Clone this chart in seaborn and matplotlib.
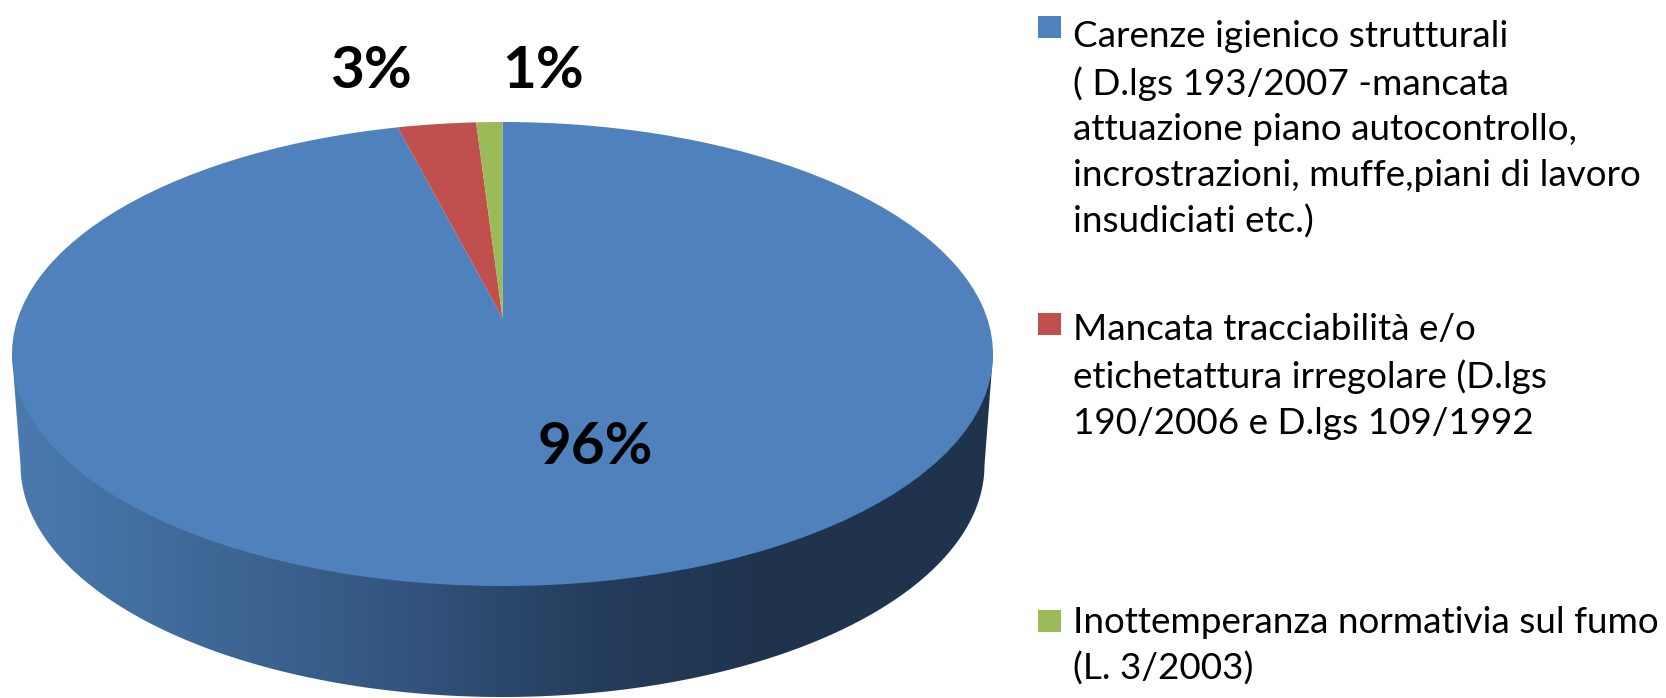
import numpy as np
import matplotlib
matplotlib.use("Agg")
import matplotlib.pyplot as plt
import matplotlib.transforms as mtransforms
from matplotlib.patches import Polygon, Rectangle
import seaborn as sns

# chart data
categories = [
    "Carenze igienico strutturali\n( D.lgs 193/2007 -mancata\nattuazione piano autocontrollo,\nincrostrazioni, muffe,piani di lavoro\ninsudiciati etc.)",
    "Mancata tracciabilità e/o\netichetattura irregolare (D.lgs\n190/2006 e D.lgs 109/1992",
    "Inottemperanza normativia sul fumo\n(L. 3/2003)",
]
values = [96, 3, 1]
colors = ["#4F81BD", "#C0504D", "#9BBB59"]
side_colors = ["#4A7AAF", "#33557F", "#243C5B", "#20344E", "#1F334D"]

# layout, in pixels of the 1666x698 picture
CX, CY, RX, RY = 502.5, 354, 490.5, 232
BOTTOM_CY, BOTTOM_RX, BOTTOM_RY = 465, 482, 232
TILT = 0.155
side_stops = [12, 400, 600, 750, 993]
label_pos = [(595, 447), (371, 71), (543, 71)]
legend_x = 1073
legend_baseline = [233, 434, 680]
swatch_top = [16, 313, 610]


class TiltTransform(mtransforms.Transform):
    """Projective view of the unit circle, so the pie centre sits above the ellipse centre"""
    input_dims = 2
    output_dims = 2

    def transform_non_affine(self, values):
        x, y = values[:, 0], values[:, 1]
        d = 1 + TILT * y
        return np.column_stack((CX + RX * x * np.sqrt(1 - TILT ** 2) / d,
                                CY - RY * (y + TILT) / d))


def main():
    sns.set_theme(style="white")
    plt.rcParams['font.family'] = ['Lato', 'DejaVu Sans']

    fig = plt.figure(figsize=(16.66, 6.98), dpi=100)
    ax = fig.add_axes([0, 0, 1, 1])

    # side of the pie, a horizontal gradient clipped to the rim
    cmap = sns.blend_palette(side_colors, n_colors=256, as_cmap=True)
    xs = np.linspace(12, 993, 400)
    gradient = np.interp(xs, side_stops, np.linspace(0, 1, len(side_stops))).reshape(1, -1)
    img = ax.imshow(gradient, cmap=cmap, extent=(12, 993, 710, 340), aspect='auto', zorder=1)
    t = np.linspace(np.pi, 0, 200)
    rim = np.column_stack((CX + BOTTOM_RX * np.cos(t), BOTTOM_CY + BOTTOM_RY * np.sin(t)))
    outline = np.vstack(([CX - RX, CY], rim, [CX + RX, CY]))
    clip = Polygon(outline, closed=True, transform=ax.transData)
    img.set_clip_path(clip)

    # top of the pie
    wedges, _ = ax.pie(values, colors=colors, startangle=90, counterclock=False,
                       wedgeprops={'linewidth': 0, 'zorder': 2})
    tilt = TiltTransform() + ax.transData
    for wedge in wedges:
        wedge.set_transform(tilt)

    ax.set_aspect('auto')
    ax.set_xlim(0, 1666)
    ax.set_ylim(698, 0)
    ax.axis('off')

    # percentages
    for value, (x, y) in zip(values, label_pos):
        ax.text(x, y, f"{value}%", fontsize=42, fontweight='bold', color='black',
                ha='center', va='center', zorder=3)

    # legend
    for name, color, top, base in zip(categories, colors, swatch_top, legend_baseline):
        ax.add_patch(Rectangle((1038, top), 23, 22, facecolor=color, edgecolor='none', zorder=3))
        ax.text(legend_x, base, name, fontsize=26.6, color='black', ha='left', va='baseline',
                linespacing=1.465, zorder=3)

    fig.savefig('out.png', dpi=100, facecolor='white')
    plt.close(fig)


if __name__ == "__main__":
    main()
